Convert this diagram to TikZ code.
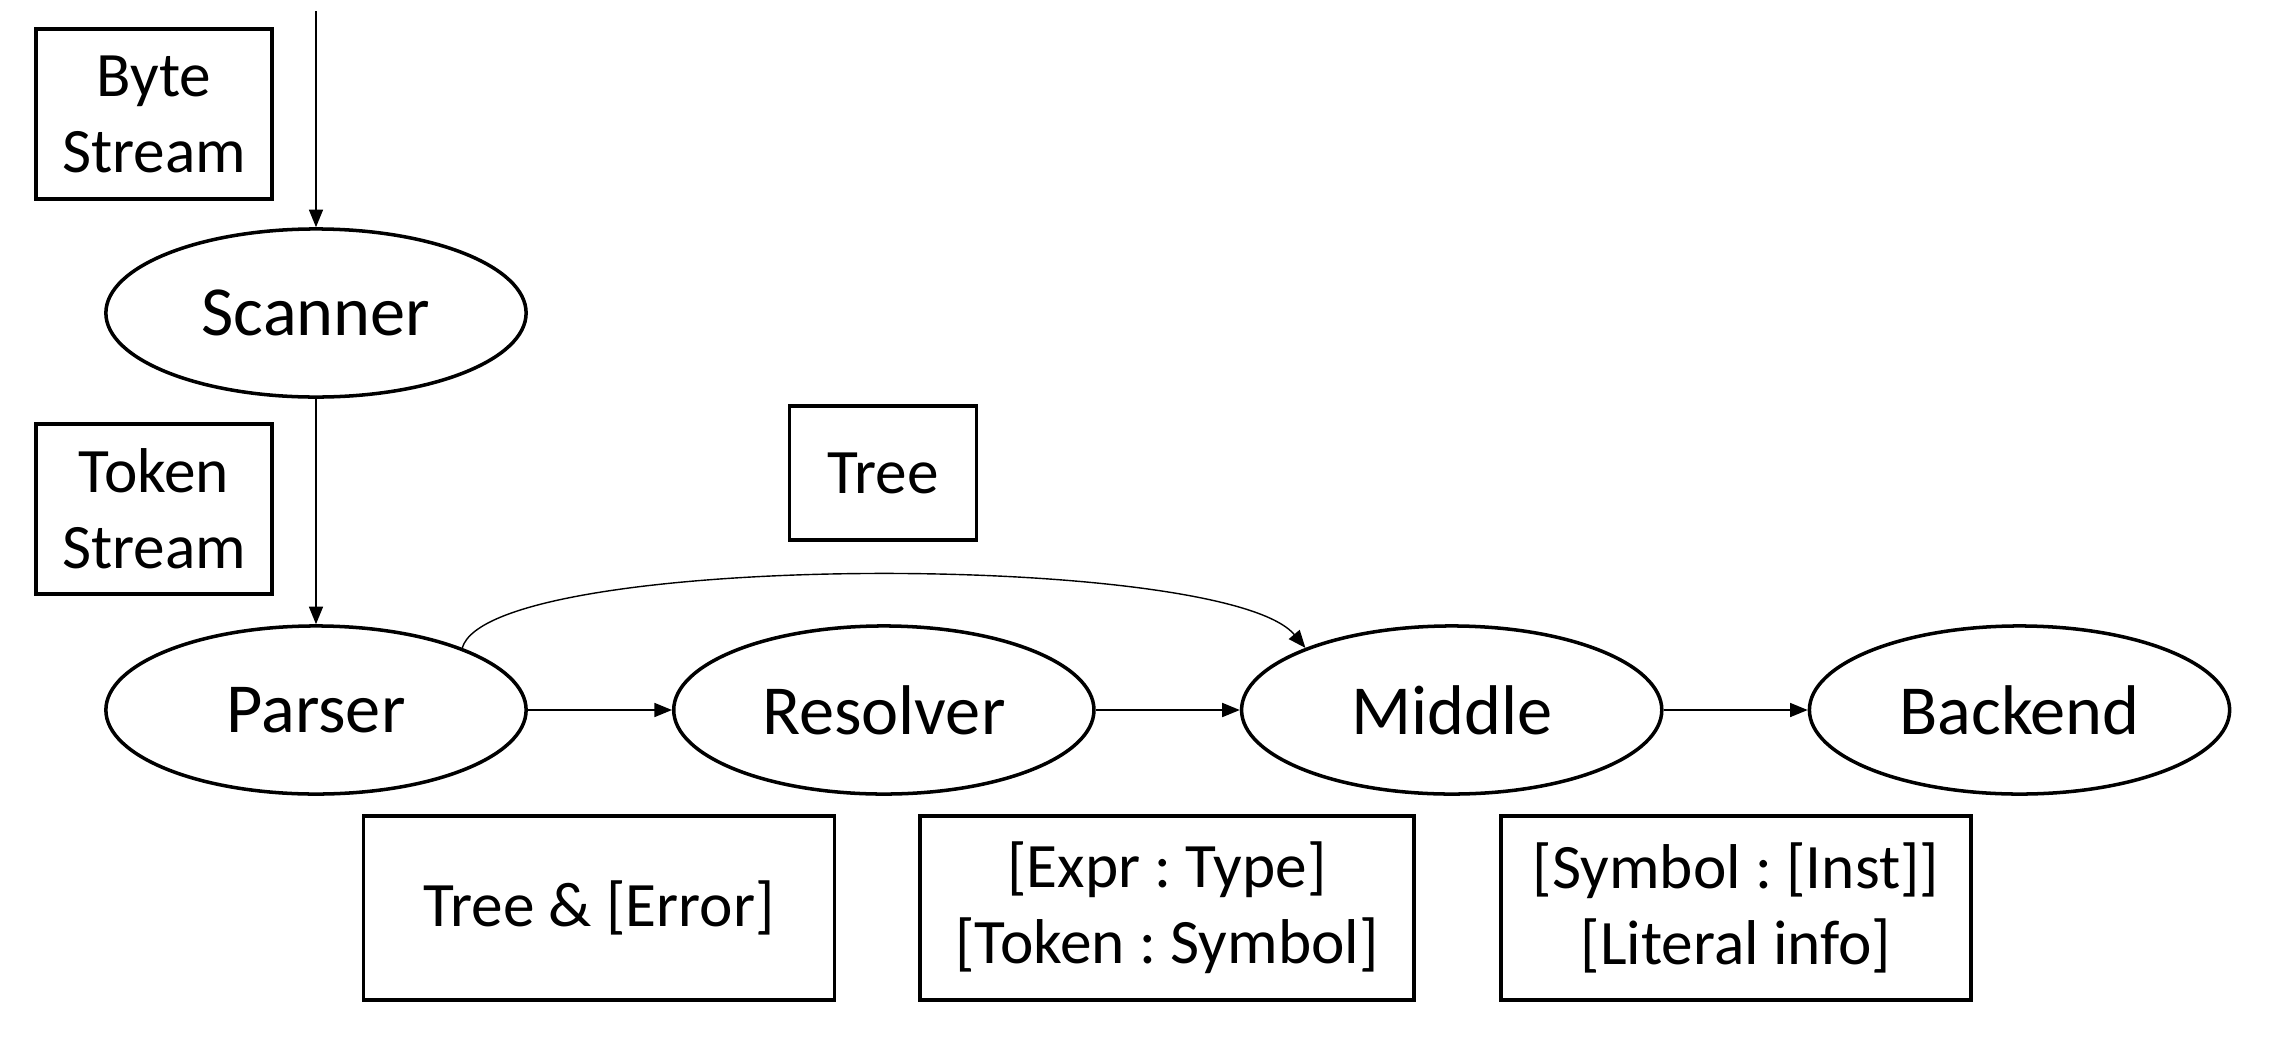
\documentclass[tikz,border=0pt]{standalone}
\usepackage{fontspec}
\setmainfont{Carlito}
\usetikzlibrary{arrows.meta,positioning,shapes.geometric}
\tikzset{
  stage/.style ={draw,ellipse,line width=1pt,minimum width=4.2cm,minimum height=1.68cm,
                 inner sep=0pt,font=\fontsize{20}{24}\selectfont},
  data/.style  ={draw,line width=1pt,align=center,inner sep=0pt,
                 font=\fontsize{18}{21.6}\selectfont\frenchspacing},
  ar/.style    ={-{Triangle[length=5pt,width=4pt]},line width=0.4pt},
}
\begin{document}
\begin{tikzpicture}[x=0.01cm,y=-0.01cm]
  \useasboundingbox (0,0) rectangle (2272,1042);
  % pipeline stages
  \node[stage] (sc) at (316,313) {Scanner};
  \node[stage] (pa) at (316,710) {Parser};
  \node[stage,right=1.44cm of pa] (rs) {Resolver};
  \node[stage,right=1.44cm of rs] (md) {Middle};
  \node[stage,right=1.44cm of md] (be) {Backend};
  % data passed between stages
  \node[data,minimum width=2.36cm,minimum height=1.7cm] (bs) at (154,114) {Byte\\Stream};
  \node[data,minimum width=2.36cm,minimum height=1.7cm] (ts) at (154,509) {Token\\Stream};
  \node[data,minimum width=1.87cm,minimum height=1.34cm] (tr) at (883,473) {Tree};
  \node[data,minimum width=4.71cm,minimum height=1.84cm] (te) at (599,908) {Tree \& [Error]};
  \node[data,minimum width=4.94cm,minimum height=1.84cm] (et) at (1167,908)
    {[Expr : Type]\\{[Token : Symbol]}};
  \node[data,minimum width=4.70cm,minimum height=1.84cm] (si) at (1736,908)
    {[Symbol : [Inst]]\\{[Literal info]}};
  % flow
  \coordinate (src) at (316,11);
  \draw[ar] (src) -- (sc);
  \draw[ar] (sc) -- (pa);
  \draw[ar] (pa) -- (rs);
  \draw[ar] (rs) -- (md);
  \draw[ar] (md) -- (be);
  \draw[ar] (pa.23) .. controls +(28,-97) and +(-81,-97) .. (md.157);
\end{tikzpicture}
\end{document}
